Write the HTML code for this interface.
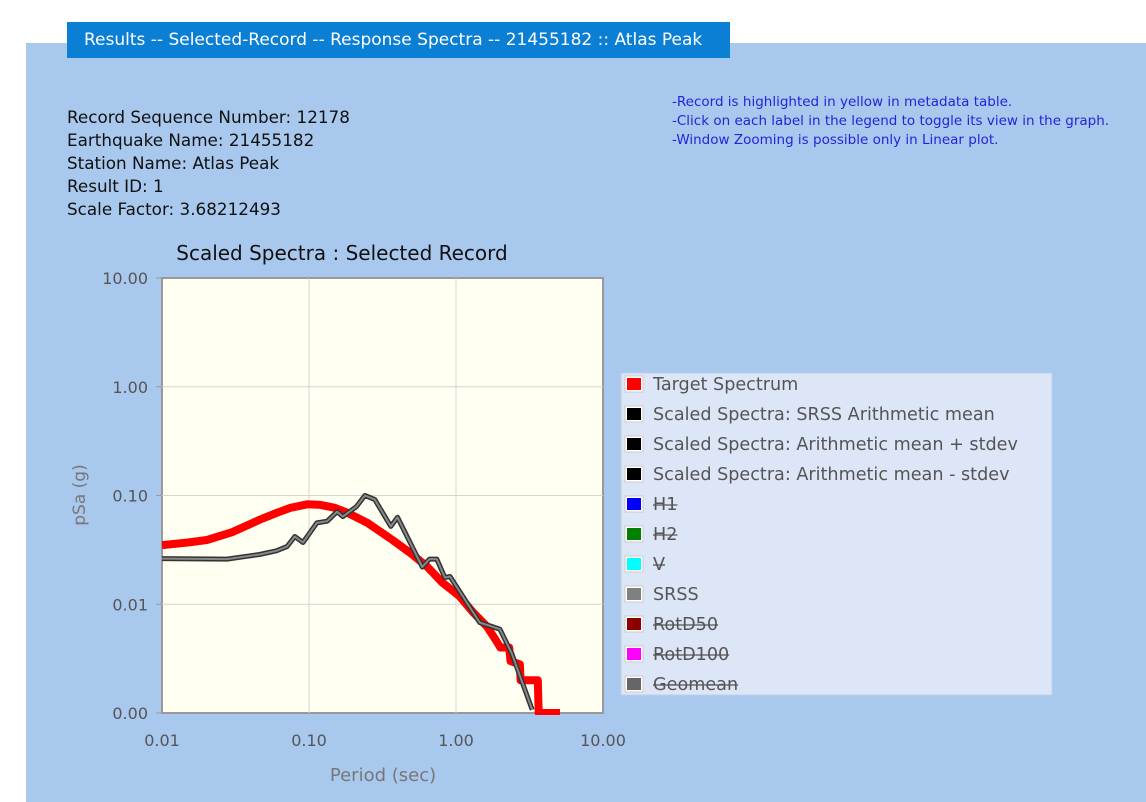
<!DOCTYPE html>
<html><head><meta charset="utf-8"><style>
body{margin:0;width:1146px;height:802px;background:#fff;position:relative;overflow:hidden;font-family:"DejaVu Sans","Liberation Sans",sans-serif}
.bg{position:absolute;left:26px;top:43px;width:1120px;height:759px;background:#A9C8EE}
.bar{position:absolute;left:67px;top:22px;width:663px;height:36px;background:#0A7FD4;color:#fff;font-size:17px;line-height:36px;text-indent:17px;white-space:nowrap}
.info{position:absolute;left:67px;top:106px;font-size:16.8px;line-height:23px;color:#111}
.notes{position:absolute;left:672px;top:93px;font-size:13.5px;line-height:19px;color:#2424d8;white-space:nowrap}
</style></head><body>
<div class="bg"></div>
<div class="bar">Results -- Selected-Record -- Response Spectra -- 21455182 :: Atlas Peak</div>
<div class="info">Record Sequence Number: 12178<br>Earthquake Name: 21455182<br>Station Name: Atlas Peak<br>Result ID: 1<br>Scale Factor: 3.68212493</div>
<div class="notes">-Record is highlighted in yellow in metadata table.<br>-Click on each label in the legend to toggle its view in the graph.<br>-Window Zooming is possible only in Linear plot.</div>
<svg id="chart" width="1146" height="802" style="position:absolute;left:0;top:0"></svg>
<script>
const xTicks=[0.01,0.1,1,10];
const xTickLabels=["0.01","0.10","1.00","10.00"];
const yTicks=[0.001,0.01,0.1,1,10];
const yTickLabels=["0.00","0.01","0.10","1.00","10.00"];
const targetPeriods=[0.01,0.015,0.0202,0.03,0.0464,0.06,0.075,0.097,0.12,0.15,0.18,0.25,0.37,0.5,0.64,0.8,1.06,1.3,1.63,1.9,2.0,2.3,2.35,2.72,2.75,3.6,3.65,5.1];
const targetValues=[0.035,0.037,0.039,0.046,0.060,0.069,0.077,0.083,0.082,0.077,0.070,0.056,0.039,0.029,0.022,0.016,0.0118,0.0085,0.0062,0.0045,0.004,0.004,0.003,0.0028,0.002,0.002,0.001,0.001];
const srssPeriods=[0.01,0.0277,0.046,0.06,0.071,0.080,0.091,0.113,0.133,0.155,0.17,0.21,0.24,0.28,0.36,0.40,0.59,0.66,0.74,0.84,0.91,1.45,1.78,1.99,2.4,3.3];
const srssValues=[0.0263,0.026,0.0287,0.031,0.034,0.042,0.037,0.056,0.058,0.071,0.064,0.079,0.10,0.092,0.052,0.063,0.022,0.026,0.026,0.0176,0.018,0.0068,0.0062,0.0059,0.0035,0.00107];
const legendLabels=["Target Spectrum","Scaled Spectra: SRSS Arithmetic mean","Scaled Spectra: Arithmetic mean + stdev","Scaled Spectra: Arithmetic mean - stdev","H1","H2","V","SRSS","RotD50","RotD100","Geomean"];
const legendColors=["#ff0000","#000","#000","#000","#0000ff","#008000","#00ffff","#808080","#8b0000","#ff00ff","#666"];
const legendHidden=[false,false,false,false,true,true,true,false,true,true,true];

const L=162,R=603,T=278,B=713;
const xs=v=>L+(Math.log10(v)+2)/3*(R-L);
const ys=v=>B-(Math.log10(v)+3)/4*(B-T);
const svg=document.getElementById('chart');
const NS='http://www.w3.org/2000/svg';
function mk(tag,attrs,parent){const e=document.createElementNS(NS,tag);for(const k in attrs)e.setAttribute(k,attrs[k]);(parent||svg).appendChild(e);return e;}
let t=mk('text',{x:342,y:260,'text-anchor':'middle','font-size':20,fill:'#111'});t.textContent='Scaled Spectra : Selected Record';


let bg=mk('rect',{x:L,y:T,width:R-L,height:B-T,fill:'#FFFFF2',stroke:'#999','stroke-width':2});


xTicks.forEach((v,i)=>{const x=xs(v);
 if(i>0&&i<xTicks.length-1){const g=mk('line',{x1:x,x2:x,y1:T,y2:B,stroke:'#d4d4d4'});}
 const l=mk('text',{x:x,y:746,'text-anchor':'middle','font-size':16,fill:'#555'});l.textContent=xTickLabels[i];
 
 });
yTicks.forEach((v,i)=>{const y=ys(v);
 if(i>0&&i<yTicks.length-1){const g=mk('line',{x1:L,x2:R,y1:y,y2:y,stroke:'#d4d4d4'});}
 mk('line',{x1:L-6,x2:L,y1:y,y2:y,stroke:'#999'});
 const l=mk('text',{x:148,y:y+6,'text-anchor':'end','font-size':16,fill:'#555'});l.textContent=yTickLabels[i];
 
 });
function path(P,V){return P.map((p,i)=>(i?'L':'M')+xs(p).toFixed(1)+','+ys(V[i]).toFixed(1)).join('');}
const clip=mk('clipPath',{id:'cp'});mk('rect',{x:L,y:T,width:R-L,height:B-T+2},clip);
let tl=mk('path',{d:path(targetPeriods,targetValues),fill:'none',stroke:'#ff0000','stroke-width':8,'stroke-linejoin':'round','clip-path':'url(#cp)'});


let s1=mk('path',{d:path(srssPeriods,srssValues),fill:'none',stroke:'#333','stroke-width':5,'stroke-linejoin':'round','clip-path':'url(#cp)'});


let s2=mk('path',{d:path(srssPeriods,srssValues),fill:'none',stroke:'#888','stroke-width':2,'stroke-linejoin':'round','clip-path':'url(#cp)'});


let xt=mk('text',{x:383,y:781,'text-anchor':'middle','font-size':18,fill:'#777'});xt.textContent='Period (sec)';


let yt=mk('text',{x:0,y:0,'text-anchor':'middle','font-size':17,fill:'#777',transform:'translate(85,495) rotate(-90)'});yt.textContent='pSa (g)';


let lb=mk('rect',{x:621,y:373,width:431,height:322,fill:'#DCE6F6',stroke:'#c0cfe6'});


legendLabels.forEach((s,i)=>{const y=384+i*30;
 const g=mk('g',{});
 
 
 mk('rect',{x:625,y:y-8,width:18,height:16,fill:'#fff',stroke:'#ccc'},g);
 mk('rect',{x:627,y:y-6,width:14,height:12,fill:legendColors[i]},g);
 const tx=mk('text',{x:653,y:y+6,'font-size':17.6,fill:'#555'},g);tx.textContent=s;
 if(legendHidden[i]){const w=tx.getComputedTextLength();mk('line',{x1:653,x2:653+w,y1:y+1,y2:y+1,stroke:'#555','stroke-width':1.3},g);}
});
</script>
</body></html>
